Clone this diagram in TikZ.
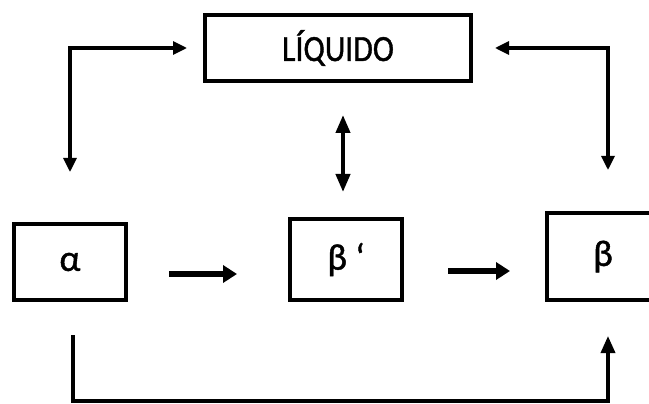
\documentclass[tikz,border=0pt]{standalone}
\usepackage{fontspec}
\usepackage{graphicx}
\setmainfont{Carlito}
\newfontfamily\medfont{Carlito}[FakeBold=1.2]
\usetikzlibrary{arrows.meta,calc}
\begin{document}
\begin{tikzpicture}[x=1pt,y=-1pt,
  box/.style={draw,line width=3.5pt,inner sep=0pt,outer sep=0pt,
    font=\medfont\fontsize{37}{37}\selectfont},
  conn/.style={line width=3.2pt},
  thinboth/.style={{Triangle[length=14pt,width=13pt]}-{Triangle[length=14pt,width=13pt]}},
  midboth/.style={line width=4pt,{Triangle[length=18pt,width=14pt]}-{Triangle[length=18pt,width=14pt]}},
  rowarrow/.style={line width=5.5pt,-{Triangle[length=14pt,width=17pt]}},
  uphead/.style={line width=3.5pt,-{Triangle[length=17pt,width=14pt]}}]
\useasboundingbox (0,0) rectangle (649,404);
\clip (0,0) rectangle (649,404);

\node[box,minimum width=266pt,minimum height=66pt] (liq) at (338,48) {\scalebox{0.86}[1]{LÍQUIDO}};
\node[box,minimum width=112pt,minimum height=76pt] (al) at (70,262) {\raisebox{-2pt}{α}};
\node[box,minimum width=112pt,minimum height=81pt] (bp) at (346,259.5) {β ‘};
\node[box,minimum width=112pt,minimum height=87pt] (be) at (603,256.5) {β};

% left connector
\draw[conn,thinboth,shorten <=18pt,shorten >=52pt] (liq.west) -| (al.north);
% right connector
\draw[conn,thinboth,shorten <=24pt,shorten >=43pt] (liq.east) -| ($(be.north)+(5,0)$);
% middle double arrow
\draw[midboth,shorten <=34pt,shorten >=27pt] ($(liq.south)+(5,0)$) -- ($(bp.north)+(-3,0)$);
% row arrows
\draw[rowarrow,shorten <=43pt,shorten >=53pt] ($(al.east)+(0,12)$) -- ($(bp.west)+(0,14.5)$);
\draw[rowarrow,shorten <=46pt,shorten >=37pt] ($(bp.east)+(0,11.5)$) -- ($(be.west)+(0,14.5)$);
% bottom connector
\coordinate (bl) at (73,401);
\draw[uphead,shorten <=35pt,shorten >=36pt] ($(al.south)+(3,0)$) -- (bl) -| ($(be.south)+(5,0)$);
\end{tikzpicture}
\end{document}
